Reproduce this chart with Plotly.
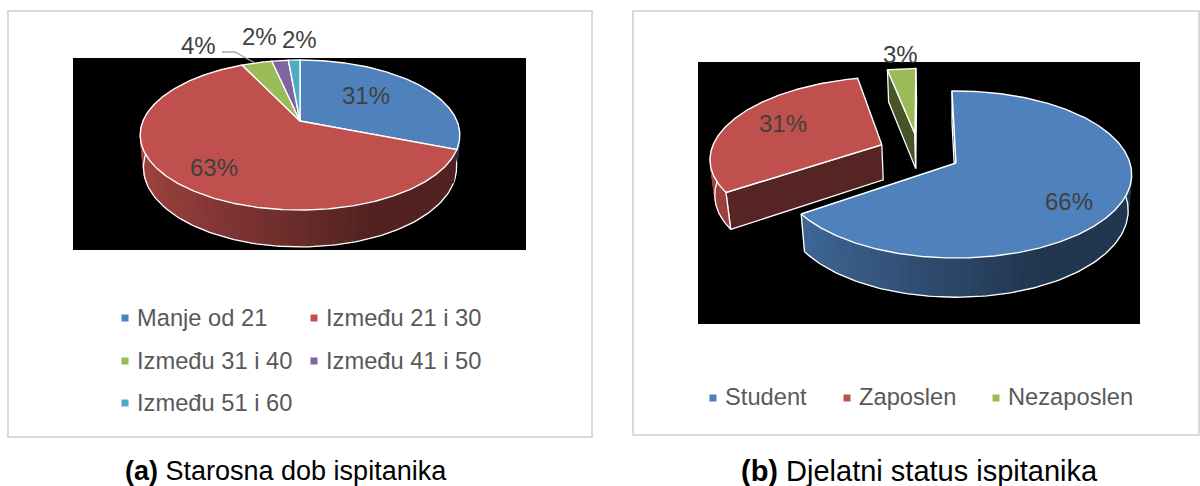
import numpy as np
import plotly.graph_objects as go

# chart (a)
age_categories = ['Manje od 21', 'Između 21 i 30', 'Između 31 i 40', 'Između 41 i 50', 'Između 51 i 60']
age_shares = [31, 61.9, 3.7, 2.0, 1.4]
age_labels = ['31%', '63%', '4%', '2%', '2%']

# chart (b)
status_categories = ['Student', 'Zaposlen', 'Nezaposlen']
status_shares = [65.7, 31.2, 3.1]
status_labels = ['66%', '31%', '3%']

colors = ['#4F81BD', '#C0504D', '#9BBB59', '#8064A2', '#4BACC6']
GRID = '#D9D9D9'


def shade(hex_color, f):
    r, g, b = [int(hex_color[i:i + 2], 16) for i in (1, 3, 5)]
    return f'rgb({r * f:.0f},{g * f:.0f},{b * f:.0f})'


def add_pie(fig, shares, cx, cy, rx, ry, k, depth, start=0, offsets=None):
    # tilted pie: every slice is worked out from its share and projected with perspective
    def project(u, v, z=0.0):
        w = 1 + k * v + 0.02 * z
        return cx + rx * u / w, cy - ry * v / w + depth * z / w

    def poly(xs, ys, fill, line_color, width):
        fig.add_trace(go.Scatter(x=xs, y=ys, mode='lines', fill='toself', fillcolor=fill,
                                 line=dict(color=line_color, width=width),
                                 hoverinfo='skip', showlegend=False))

    cum = np.cumsum([0] + list(shares)) / sum(shares) * 360 + start
    tops = []
    for i in range(len(shares)):
        a0, a1 = cum[i], cum[i + 1]
        du, dv = offsets[i] if offsets else (0, 0)
        base = colors[i]
        ang = np.radians(np.arange(a0, a1, 0.5).tolist() + [a1])
        us = du + np.sin(ang)
        vs = dv + np.cos(ang)

        ax, ay = project(du, dv)
        tx, ty = project(us, vs)
        mx, my = project(du + 0.6 * np.sin(np.radians((a0 + a1) / 2)),
                         dv + 0.6 * np.cos(np.radians((a0 + a1) / 2)))

        # flat walls along the cut, only if the slice top lies above the cut
        for j in (0, -1):
            if offsets is None or tx[j] == ax:
                continue
            line_y = ay + (ty[j] - ay) / (tx[j] - ax) * (mx - ax)
            if my < line_y:
                bx0, by0 = project(du, dv, 1)
                bx1, by1 = project(us[j], vs[j], 1)
                poly([ax, tx[j], bx1, bx0, ax], [ay, ty[j], by1, by0, ay],
                     shade(base, 0.45), 'white', 1.3)

        # curved wall, only the front part (the slice top hides the overshoot)
        front = [a for a in np.arange(a0, a1, 3).tolist() + [a1] if 78 <= a <= 288]
        if len(front) > 1:
            for a, b in zip(front[:-1], front[1:]):
                r = np.radians([a, b])
                su, sv = du + np.sin(r), dv + np.cos(r)
                x0, y0 = project(su, sv)
                x1, y1 = project(su, sv, 1)
                t = np.clip((np.sin(r).mean() + 1) / 1.4, 0, 1)
                col = shade(base, 0.85 + (0.42 - 0.85) * t)
                poly([x0[0], x0[1], x1[1], x1[0], x0[0]], [y0[0], y0[1], y1[1], y1[0], y0[0]],
                     col, col, 1)
            r = np.radians(np.linspace(front[0], front[-1], 120))
            lx, ly = project(du + np.sin(r), dv + np.cos(r), 1)
            fig.add_trace(go.Scatter(x=lx, y=ly, mode='lines', line=dict(color='white', width=1.3),
                                     hoverinfo='skip', showlegend=False))
            # wall edge where the rim stops
            if offsets:
                for a in (front[0], front[-1]):
                    if a in (a0, a1):
                        ra = np.radians(a)
                        ex, ey = project(np.array([du + np.sin(ra)] * 2), np.array([dv + np.cos(ra)] * 2),
                                         np.array([0, 1]))
                        fig.add_trace(go.Scatter(x=ex, y=ey, mode='lines',
                                                 line=dict(color='white', width=1.3),
                                                 hoverinfo='skip', showlegend=False))

        tops.append(([ax] + tx.tolist() + [ax], [ay] + ty.tolist() + [ay], base))

    for xs, ys, base in tops:
        poly(xs, ys, base, 'white', 1.4)


fig = go.Figure()

# chart frames and black plot areas
for x0, y0, x1, y1, fill, line in [(8, 11, 592, 437, 'white', GRID), (633, 11, 1199, 435, 'white', GRID),
                                   (73, 58, 526, 250, 'black', 'black'), (698, 62, 1140, 324, 'black', 'black')]:
    fig.add_shape(type='rect', x0=x0, y0=y0, x1=x1, y1=y1, fillcolor=fill,
                  line=dict(color=line, width=2 if fill == 'white' else 0), layer='below')

add_pie(fig, age_shares, cx=300, cy=121, rx=157, ry=72.4, k=0.187, depth=32.5)
add_pie(fig, status_shares, cx=956, cy=163, rx=174, ry=81.9, k=0.138, depth=36.5, start=-1.5,
        offsets=[(0, 0), (-0.44, 0.23), (-0.248, 0.372)])

# leader line for the 4% label
fig.add_shape(type='path', path='M 222 52 L 235 52 L 255 63', line=dict(color='#A6A6A6', width=1.3))


def text(x, y, s, size, color, anchor='center'):
    fig.add_annotation(x=x, y=y, text=s, showarrow=False, xanchor=anchor, yanchor='middle',
                       font=dict(family='Liberation Sans', size=size, color=color))


# data labels
for s, (x, y) in zip(age_labels, [(366, 95), (214, 167), (198, 45), (259, 36), (299, 39)]):
    text(x, y, s, 24, '#404040')
for s, (x, y) in zip(status_labels, [(1069, 201), (783, 123), (900, 54)]):
    text(x, y, s, 24, '#404040')

# legends
age_legend_pos = [(125, 318), (314, 318), (125, 361), (314, 361), (125, 403)]
for i, (name, (x, y)) in enumerate(zip(age_categories, age_legend_pos)):
    fig.add_shape(type='rect', x0=x - 3.5, x1=x + 3.5, y0=y - 3.5, y1=y + 3.5, fillcolor=colors[i], line_width=0)
    text(x + 9.5, y, name, 23.7, '#595959', 'left')
for i, (name, x) in enumerate(zip(status_categories, [713, 847, 996])):
    fig.add_shape(type='rect', x0=x - 3.5, x1=x + 3.5, y0=394.5, y1=401.5, fillcolor=colors[i], line_width=0)
    text(x + 9.5, 397, name, 23.7, '#595959', 'left')

# captions
text(286, 471, '<b>(a)</b> Starosna dob ispitanika', 27, 'black')
text(919, 471, '<b>(b)</b> Djelatni status ispitanika', 29, 'black')

fig.update_xaxes(range=[0, 1200], visible=False, fixedrange=True)
fig.update_yaxes(range=[486, 0], visible=False, fixedrange=True)
fig.update_layout(width=1200, height=486, margin=dict(l=0, r=0, t=0, b=0),
                  paper_bgcolor='white', plot_bgcolor='white', showlegend=False)

# the page's default body margin would push the figure off by 8px
fig.write_html("out.html", config={'displayModeBar': False},
               post_script="document.body.style.margin='0';document.body.style.overflow='hidden';")
